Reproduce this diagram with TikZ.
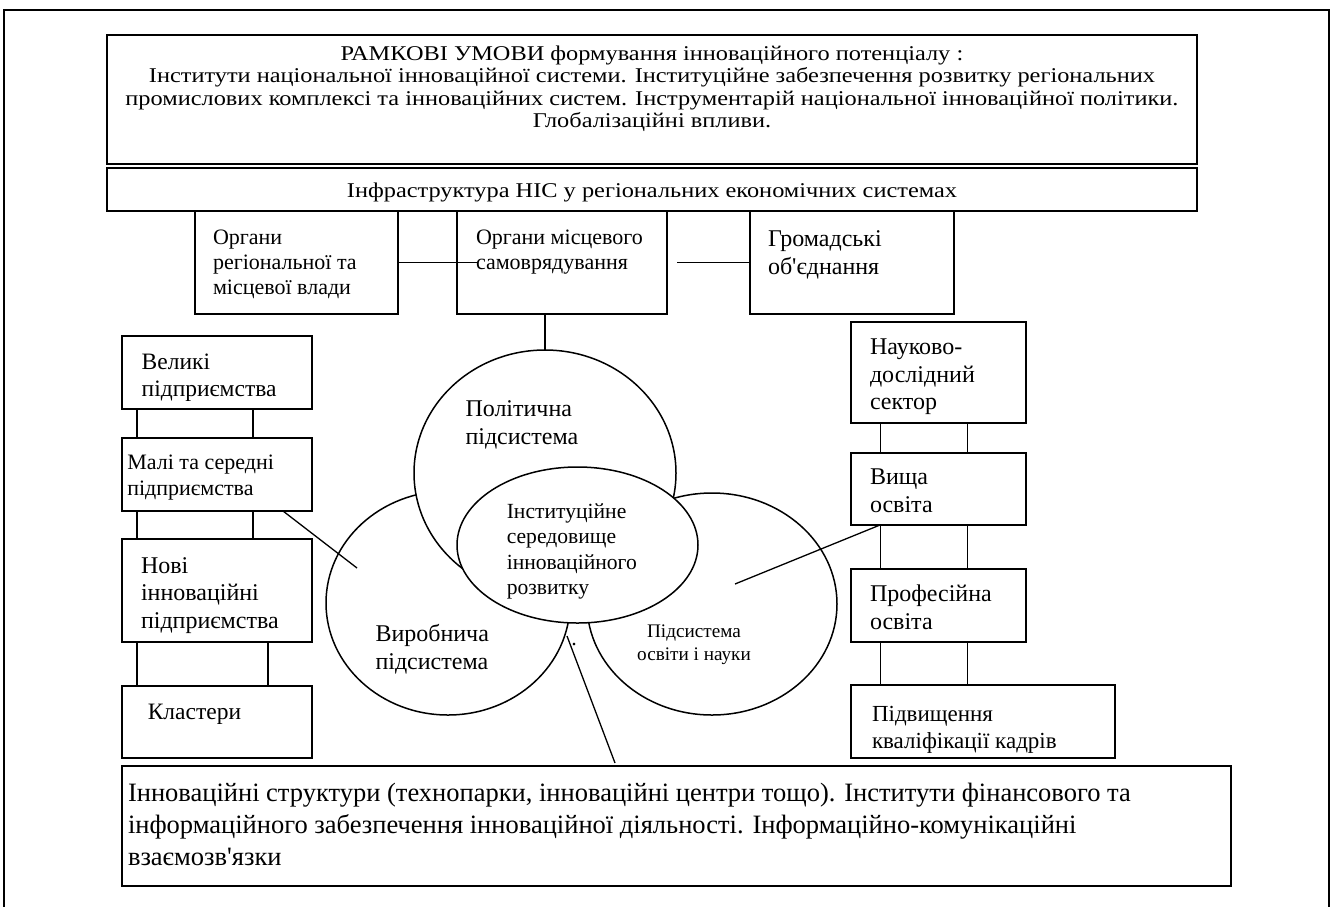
\documentclass[tikz,border=0pt]{standalone}
\usepackage{fontspec}
\newfontfamily\lserif{Liberation Serif}
\newfontfamily\lwide{Liberation Serif}[FakeStretch=1.16]
\usetikzlibrary{shapes.geometric,calc}
\newcommand\fsz[2]{\fontsize{#1}{#2}\selectfont}
\newcommand\fl{\rule{0pt}{20pt}}
\begin{document}
\begin{tikzpicture}[x=1pt,y=-1pt,
  box/.style={draw, line width=1.6pt, rectangle, inner sep=0pt, outer sep=0pt, fill=white, anchor=north west},
  oval/.style={draw, line width=1.5pt, ellipse, inner sep=0pt, outer sep=0pt, fill=white},
  link/.style={line width=1.3pt},
  txt/.style={inner sep=0pt, outer sep=0pt, align=left, anchor=north west, yshift=-2.5pt},
  ctxt/.style={inner sep=0pt, outer sep=0pt, align=center, anchor=north, yshift=-2.5pt},
]
\useasboundingbox (0,0) rectangle (1334,906);
\fill[white] (0,0) rectangle (1334,906);
% outer frame
\draw[line width=2.8pt] (4,914) -- (4,10) -- (1329,10) -- (1329,914);

% top boxes
\node[box, minimum width=1090pt, minimum height=129pt] (top) at (107,35) {};
\node[ctxt, font=\lwide\fsz{21}{22.3}] (top-t) at (652,38) {\fl РАМКОВІ УМОВИ формування інноваційного потенціалу :\\Інститути національної інноваційної системи. Інституційне забезпечення розвитку регіональних\\промислових комплексі та інноваційних систем. Інструментарій національної інноваційної політики.\\Глобалізаційні впливи.};
\node[box, minimum width=1090pt, minimum height=43pt] (infra) at (107,168) {};
\node[ctxt, font=\lwide\fsz{21}{22.3}] (infra-t) at (652,174.5) {\fl Інфраструктура НІС у регіональних економічних системах};

% row of authorities
\node[box, minimum width=203pt, minimum height=103pt] (b1) at (195,211) {};
\node[txt, font=\lserif\fsz{22}{25}] (b1-t) at (213,221.7) {\fl Органи\\регіональної та\\місцевої влади};
\node[box, minimum width=210pt, minimum height=103pt] (b2) at (457,211) {};
\node[txt, font=\lserif\fsz{22}{25}] (b2-t) at (476,221.7) {\fl Органи місцевого\\самоврядування};
\node[box, minimum width=204pt, minimum height=103pt] (b3) at (750,211) {};
\node[txt, font=\lserif\fsz{24}{28.4}] (b3-t) at (768,223.8) {\fl Громадські\\об'єднання};

% subsystems (ellipses)
\node[oval, minimum width=244pt, minimum height=224pt] (vyrob) at (448,603) {};
\node[oval, minimum width=250pt, minimum height=222pt] (osv) at (712,604) {};
\node[oval, minimum width=262pt, minimum height=246pt] (polit) at (545,473) {};
\node[oval, minimum width=241pt, minimum height=156pt] (inst) at (577.5,545) {};
\node[txt, font=\lserif\fsz{24}{28.4}] (polit-t) at (465.5,393.8) {\fl Політична\\підсистема};
\node[txt, font=\lserif\fsz{21.6}{25.5}] (inst-t) at (506.8,495.7) {\fl Інституційне\\середовище\\інноваційного\\розвитку};
\node[txt, font=\lserif\fsz{24}{28.4}] (vyrob-t) at (375.5,618.8) {\fl Виробнича\\підсистема};
\node[ctxt, font=\lserif\fsz{19.2}{22.3}] (osv-t) at (694,615.4) {\fl Підсистема\\освіти і науки};
\node[inner sep=0pt, anchor=base, font=\lserif\fsz{22}{22}] (dot) at (574,645) {.};

% left column
\node[box, minimum width=190pt, minimum height=73pt] (velyki) at (122,336) {};
\node[txt, font=\lserif\fsz{23.5}{26.6}] (velyki-t) at (141.7,347) {\fl Великі\\підприємства};
\node[box, minimum width=190pt, minimum height=73pt] (maly) at (122,438) {};
\node[txt, font=\lserif\fsz{22}{26.6}] (maly-t) at (127.3,446.7) {\fl Малі та середні\\підприємства};
\node[box, minimum width=190pt, minimum height=103pt] (novi) at (122,539) {};
\node[txt, font=\lserif\fsz{24}{27.8}] (novi-t) at (141,550.5) {\fl Нові\\інноваційні\\підприємства};
\node[box, minimum width=190pt, minimum height=72pt] (klast) at (122,686) {};
\node[txt, font=\lserif\fsz{23.5}{26.6}] (klast-t) at (147.8,697.2) {\fl Кластери};

% right column
\node[box, minimum width=175pt, minimum height=101pt] (nauk) at (851,322) {};
\node[txt, font=\lserif\fsz{24}{27.6}] (nauk-t) at (870,332.2) {\fl Науково-\\дослідний\\сектор};
\node[box, minimum width=175pt, minimum height=72pt] (vyshcha) at (851,453) {};
\node[txt, font=\lserif\fsz{24}{27.3}] (vyshcha-t) at (870,462.2) {\fl Вища\\освіта};
\node[box, minimum width=175pt, minimum height=73pt] (prof) at (851,569) {};
\node[txt, font=\lserif\fsz{24}{28.4}] (prof-t) at (870,578.8) {\fl Професійна\\освіта};
\node[box, minimum width=264pt, minimum height=73pt] (pidv) at (851,685) {};
\node[txt, font=\lserif\fsz{23}{27.7}] (pidv-t) at (872,698.6) {\fl Підвищення\\кваліфікації кадрів};

% bottom box
\node[box, minimum width=1109pt, minimum height=120pt] (bottom) at (122,766) {};
\node[txt, font=\lserif\fsz{26.5}{31.7}] (bottom-t) at (128,779.4) {\fl Інноваційні структури (технопарки, інноваційні центри тощо). Інститути фінансового та\\інформаційного забезпечення інноваційної діяльності. Інформаційно-комунікаційні\\взаємозв'язки};

% free ends
\coordinate (vyrob-in) at (357,568);
\coordinate (osv-in) at (735,584);
\coordinate (inst-foot) at (567,636);

% connectors
\draw[link] (b1.east) -- ([xshift=21pt]b2.west);
\draw[link] ([xshift=10pt]b2.east) -- (b3.west);
\draw[link] (polit.north |- b2.south) -- (polit.north);

\draw[link] ([xshift=15pt]velyki.south west) -- ([xshift=15pt]maly.north west);
\draw[link] ([xshift=131pt]velyki.south west) -- ([xshift=131pt]maly.north west);
\draw[link] ([xshift=15pt]maly.south west) -- ([xshift=15pt]novi.north west);
\draw[link] ([xshift=131pt]maly.south west) -- ([xshift=131pt]novi.north west);
\draw[link] ([xshift=15pt]novi.south west) -- ([xshift=15pt]klast.north west);
\draw[link] ([xshift=146pt]novi.south west) -- ([xshift=146pt]klast.north west);

\draw[link] ([xshift=29.5pt]nauk.south west) -- ([xshift=29.5pt]vyshcha.north west);
\draw[link] ([xshift=116.5pt]nauk.south west) -- ([xshift=116.5pt]vyshcha.north west);
\draw[link] ([xshift=29.5pt]vyshcha.south west) -- ([xshift=29.5pt]prof.north west);
\draw[link] ([xshift=116.5pt]vyshcha.south west) -- ([xshift=116.5pt]prof.north west);
\draw[link] ([xshift=29.5pt]prof.south west) -- ([xshift=29.5pt]pidv.north west);
\draw[link] ([xshift=116.5pt]prof.south west) -- ([xshift=116.5pt]pidv.north west);

\draw[link] ([xshift=-29pt]maly.south east) -- (vyrob-in);
\draw[link] ([xshift=29pt]vyshcha.south west) -- (osv-in);
\draw[link] ([xshift=493pt,yshift=3pt]bottom.north west) -- (inst-foot);
\end{tikzpicture}
\end{document}
